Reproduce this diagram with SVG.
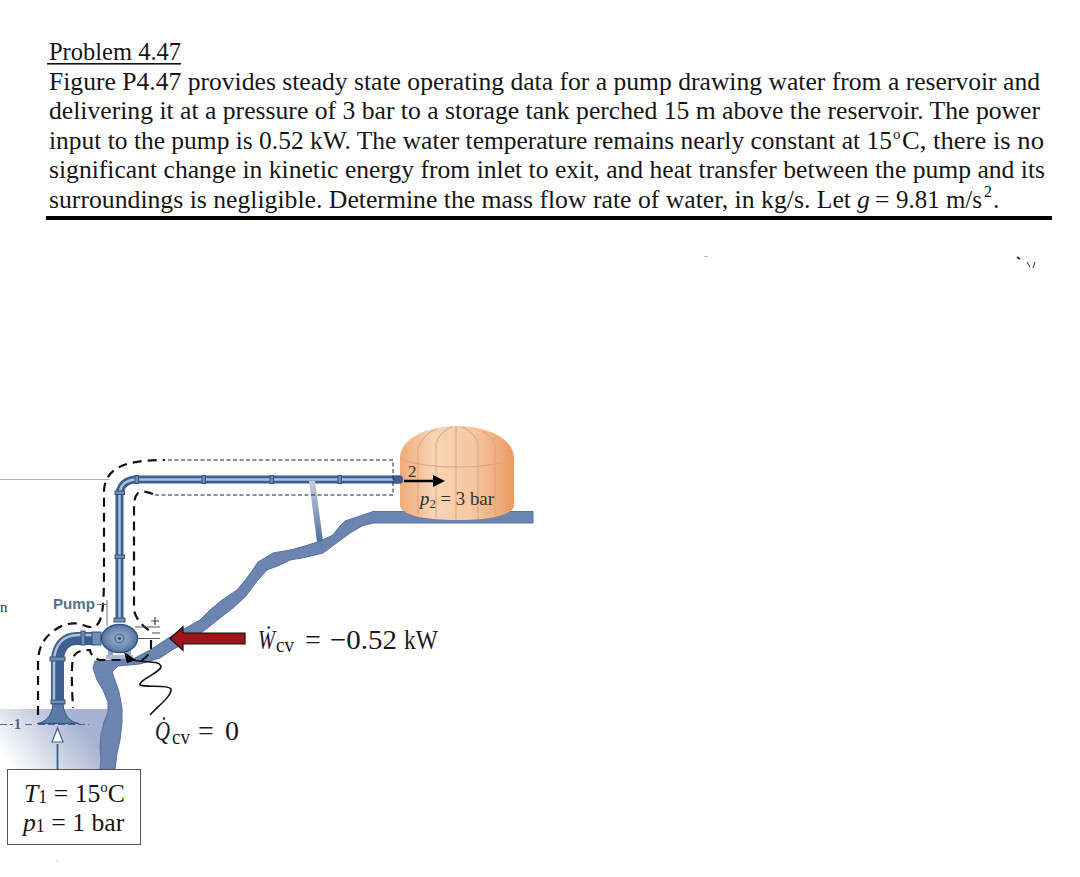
<svg xmlns="http://www.w3.org/2000/svg" width="1080" height="877" viewBox="0 0 1080 877">
<style>
.t{font-family:"Liberation Serif",serif;font-size:25.7px;fill:#161616}
.i{font-style:italic}
.m{font-family:"Liberation Serif",serif;font-size:28px;fill:#1a1a1a}
.s{font-family:"Liberation Serif",serif;font-size:21px;fill:#1a1a1a}
.pipe{fill:none;stroke:#3f5f8f;stroke-linecap:butt}
.hi{fill:none;stroke:#a9bfdc}
.fl{fill:#6f8db8;stroke:#36537f;stroke-width:1}
.d{fill:none;stroke:#111;stroke-width:2.2;stroke-dasharray:9 6}
.d2{fill:none;stroke:#222;stroke-width:1;stroke-dasharray:4 2.5}
.tl{fill:none;stroke:#dca27a;stroke-width:1}
</style>
<defs>
<linearGradient id="water" gradientUnits="userSpaceOnUse" x1="12" y1="768" x2="75" y2="718"><stop offset="0" stop-color="#ffffff"/><stop offset="1" stop-color="#a6b3d0"/></linearGradient>
<linearGradient id="tank" x1="0" y1="0" x2="1" y2="0"><stop offset="0" stop-color="#f0ab7a"/><stop offset="0.3" stop-color="#f8d5b8"/><stop offset="0.65" stop-color="#f5c6a0"/><stop offset="1" stop-color="#ec9c62"/></linearGradient>
<linearGradient id="strut" x1="0" y1="0" x2="0" y2="1"><stop offset="0" stop-color="#c3d0e2"/><stop offset="1" stop-color="#4f6f9c"/></linearGradient>
<radialGradient id="pumpg"><stop offset="0" stop-color="#a9bad4"/><stop offset="1" stop-color="#55739f"/></radialGradient>
</defs>

<g id="problem-text">
<text class="t" x="49" y="60" textLength="132" lengthAdjust="spacingAndGlyphs">Problem 4.47</text>
<rect x="47" y="63" width="134" height="1.6" fill="#111"/>
<text class="t" x="49" y="90" textLength="991" lengthAdjust="spacingAndGlyphs">Figure P4.47 provides steady state operating data for a pump drawing water from a reservoir and</text>
<text class="t" x="49" y="119" textLength="991" lengthAdjust="spacingAndGlyphs">delivering it at a pressure of 3 bar to a storage tank perched 15 m above the reservoir. The power</text>
<text class="t" x="49" y="149" textLength="843" lengthAdjust="spacingAndGlyphs">input to the pump is 0.52 kW. The water temperature remains nearly constant at 15</text>
<text class="t" x="893" y="139" style="font-size:15px">o</text>
<text class="t" x="902" y="149" textLength="142" lengthAdjust="spacingAndGlyphs">C, there is no</text>
<text class="t" x="49" y="178" textLength="996" lengthAdjust="spacingAndGlyphs">significant change in kinetic energy from inlet to exit, and heat transfer between the pump and its</text>
<text class="t" x="49" y="208" textLength="802" lengthAdjust="spacingAndGlyphs">surroundings is negligible. Determine the mass flow rate of water, in kg/s. Let</text>
<text class="t i" x="857" y="208">g</text>
<text class="t" x="875" y="208">=</text>
<text class="t" x="896" y="208" textLength="86" lengthAdjust="spacingAndGlyphs">9.81 m/s</text>
<text class="t" x="984" y="197" style="font-size:16px">2</text>
<text class="t" x="993" y="208">.</text>
<rect x="46" y="216" width="1006" height="4" fill="#000"/>
</g>

<g id="specks" fill="none" stroke="#555">
<path d="M704 256.500h4" stroke="#bbb" stroke-width="1"/>
<path d="M1017 257l3 2" stroke-width="2" stroke="#333"/>
<path d="M1027 262l3 5M1035 262l-2 6" stroke-width="1.200"/>
<path d="M56 861h2" stroke="#ccc" stroke-width="1"/>
</g>

<g id="reservoir">
<path d="M0 709H110V769H0Z" fill="url(#water)"/>
<path d="M0 479.500H110" stroke="#a9b6c6" stroke-width="1" fill="none"/>
</g>

<g id="terrain">
<path d="M533 511.500L373 511.500L357 517L345 521L340 526L333 535L320 541L305 546L290 550L273 553L258 562L252 571L247 578L237 590L222 600L210 610L200 620L184 629L170 637L150 650L133 659L112 660L95 661L93 668L97 680L103 690L108 702L108 712L104 722L101 735L100 747L101 758L100 769L115 769L117 753L120 740L122 723L122 708L119 692L116 683L112 672L118 666L140 664L160 658L172 650L190 640L205 630L220 618L233 608L246 596L257 581L267 570L280 565L290 560L307 557L323 553L338 542L350 533L362 526L373 523L533 523Z" fill="#6b85b0" stroke="#56729f" stroke-width="1" stroke-linejoin="round"/>
</g>

<g id="tank-node">
<path d="M400 505L400 458C400 438 428 426 457 426C486 426 514 438 514 458L514 505C514 515 490 520 457 520C424 520 400 515 400 505Z" fill="url(#tank)"/>
<path class="tl" d="M400 458C420 470 494 470 514 458M418 515L418 448C422 438 428 432 437 429M436 518L436 444C438 436 444 430 452 427M456 520L456 426M478 519L478 444C476 436 470 430 462 427M495 517L495 446C494 440 488 434 482 431"/>
</g>

<g id="pipework">
<path d="M97 638.500H78C66 638 58 646 57.500 660V704" class="pipe" stroke-width="13"/>
<path d="M97 635H78C64 635 55 644 54 660V704" class="hi" stroke-width="2.500"/>
<path d="M119.500 622V496C119.500 486 125 479.500 137 479.500H401" class="pipe" stroke-width="8"/>
<path d="M119.500 622V496C119.500 486 125 479.500 137 479.500H401" class="hi" stroke-width="2.500"/>
<path d="M309 481L315 481L323 541L317 542Z" fill="url(#strut)"/>
<rect x="393" y="475.500" width="10" height="8" rx="3" fill="#3f5f8f"/>
<g>
<rect class="fl" x="135" y="475.500" width="3.500" height="8"/>
<rect class="fl" x="202" y="475.500" width="3.500" height="8"/>
<rect class="fl" x="270" y="475.500" width="3.500" height="8"/>
<rect class="fl" x="338" y="475.500" width="3.500" height="8"/>
<rect class="fl" x="115" y="491" width="9.500" height="3.500"/>
<rect class="fl" x="115" y="555" width="9.500" height="3.500"/>
<rect class="fl" x="114" y="618" width="11" height="4"/>
<rect class="fl" x="50" y="657" width="15" height="4"/>
<rect class="fl" x="51" y="700" width="14" height="4"/>
<rect class="fl" x="81" y="631" width="4" height="14"/>
<rect class="fl" x="92" y="632" width="9" height="13"/>
</g>
<path d="M37 723.500C46 722 52 716 53 704H63C64 716 70 722 79 723.500Z" fill="#5b7aa6" stroke="#36537f" stroke-width="1"/>
</g>

<g id="pump">
<rect x="108" y="650" width="5" height="8" fill="#8ca3c4"/>
<rect x="126" y="650" width="5" height="8" fill="#8ca3c4"/>
<rect x="106" y="655" width="27" height="4" fill="#a9bad2"/>
<ellipse cx="119.500" cy="638.500" rx="18" ry="14" fill="url(#pumpg)" stroke="#36537f" stroke-width="1.500"/>
<circle cx="119.500" cy="638.500" r="4.500" fill="#8ea5c6" stroke="#33507c" stroke-width="1"/>
<circle cx="119.500" cy="638.500" r="1.300" fill="#1e3560"/>
</g>

<g id="connectors">
<path d="M0 724.500H13M25 724.500H32M38 724.500H89" stroke="#4f6486" stroke-width="1" stroke-dasharray="7 3" fill="none"/>
<path class="d" d="M38 715V663C38 650 42 640 52 632C62 624 72 622 80 624C90 628 96 630 100 620C103 612 104 600 104 570V492C104 482 108 474 116 469C126 462 145 460 165 460"/>
<path class="d2" d="M168 460H393V495H155"/>
<path class="d" d="M153 494C148 492 142 490 138 493C135 496 134 500 134 510V610C136 620 144 628 152 632"/>
<path class="d" d="M151 640V648C150 654 146 658 142 660H100C92 658 90 652 90 650C84 650 76 650 73 658C71 670 72 690 73 708"/>
<path d="M97 604.500H107M107 600V626" stroke="#5b7396" stroke-width="1" fill="none"/>
<path d="M135 627H160M138 638.500H160" stroke="#556" stroke-width="1.200" fill="none"/>
<path d="M151 621H159M155 617V625M152 633H160" stroke="#445" stroke-width="1.200" fill="none"/>
<path d="M404 481H434" stroke="#000" stroke-width="2.500" fill="none"/>
<path d="M445 481L433 475V487Z" fill="#000"/>
<path d="M57.500 769V744" stroke="#3f5f8f" stroke-width="1.800" fill="none"/>
<path d="M57.500 728L52 742H63Z" fill="#fff" stroke="#3f5f8f" stroke-width="1.200"/>
<path d="M170 638.500L183 626.500V633H245V644H183V650.500Z" fill="#a01318" stroke="#111" stroke-width="1.200"/>
<path d="M150 715C158 706 172 696 171 689C168 684 145 688 140 685C138 680 162 672 161 666C158 660 146 663 133 660" fill="none" stroke="#111" stroke-width="1.500"/>
<path d="M124 652L136 660L127 663Z" fill="#000"/>
</g>

<g id="labels">
<text x="0" y="612" style="font-family:'Liberation Serif',serif;font-size:15px" fill="#333">n</text>
<text x="53" y="609" style="font-family:'Liberation Sans',sans-serif;font-size:14px;font-weight:700" fill="#55708f" textLength="42" lengthAdjust="spacingAndGlyphs">Pump</text>
<text x="14" y="729" style="font-family:'Liberation Serif',serif;font-size:14px;font-weight:700" fill="#4f6486">1</text>
<text x="408" y="477" style="font-family:'Liberation Serif',serif;font-size:17px" fill="#333">2</text>
<text x="420" y="505" style="font-family:'Liberation Serif',serif;font-size:18px" fill="#333" textLength="74" lengthAdjust="spacingAndGlyphs"><tspan font-style="italic">p</tspan><tspan font-size="12" dy="3">2</tspan><tspan dy="-3"> = 3 bar</tspan></text>
<text class="m i" x="258" y="649" textLength="17" lengthAdjust="spacingAndGlyphs">Ẇ</text>
<text class="s" x="276" y="652" textLength="18" lengthAdjust="spacingAndGlyphs">cv</text>
<text class="m" x="305" y="649">=</text>
<text class="m" x="330" y="649" textLength="67" lengthAdjust="spacingAndGlyphs">−0.52</text>
<text class="m" x="404" y="649" textLength="34" lengthAdjust="spacingAndGlyphs">kW</text>
<text class="m i" x="155" y="740" textLength="15" lengthAdjust="spacingAndGlyphs">Q̇</text>
<text class="s" x="172" y="744" textLength="18" lengthAdjust="spacingAndGlyphs">cv</text>
<text class="m" x="198" y="740">=</text>
<text class="m" x="225" y="740">0</text>
</g>

<g id="state-box">
<rect x="7.500" y="769.500" width="133" height="75" fill="#fff" stroke="#555" stroke-width="1"/>
<text class="t" x="24" y="802"><tspan font-style="italic">T</tspan><tspan font-size="18" dy="1">1</tspan><tspan dy="-1"> = 15</tspan><tspan font-size="15" dy="-10">o</tspan><tspan dy="10">C</tspan></text>
<text class="t" x="23" y="831"><tspan font-style="italic">p</tspan><tspan font-size="18" dy="1">1</tspan><tspan dy="-1"> = 1 bar</tspan></text>
</g>
</svg>
